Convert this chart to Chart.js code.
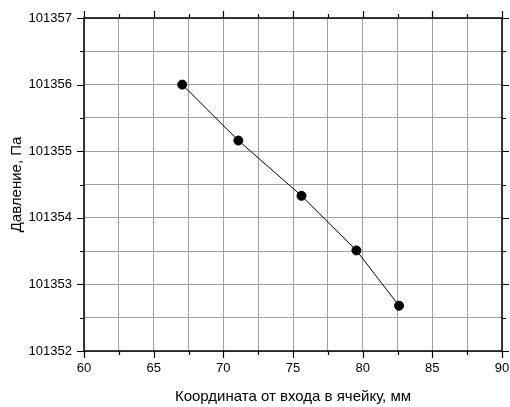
<!DOCTYPE html>
<html>
<head>
<meta charset="utf-8">
<script src="https://cdn.jsdelivr.net/npm/chart.js@4/dist/chart.umd.min.js"></script>
<style>
html,body{margin:0;padding:0;background:#fff;}
#wrap{width:510px;height:407px;}
</style>
</head>
<body>
<div id="wrap"><canvas id="c" width="510" height="407"></canvas></div>
<script>
const xValues = [67.05, 71.08, 75.61, 79.55, 82.61];
const yValues = [101356.0, 101355.16, 101354.33, 101353.51, 101352.68];
const xTitle = 'Координата от входа в ячейку, мм';
const yTitle = 'Давление, Па';

const FONT = "'Liberation Sans', Arial, sans-serif";

const framePlugin = {
  id: 'frame',
  afterDatasetsDraw(chart) {
    const ctx = chart.ctx;
    const a = chart.chartArea;
    const xs = chart.scales.x, ys = chart.scales.y;
    ctx.save();
    ctx.strokeStyle = '#000';
    ctx.lineWidth = 1.5;
    ctx.strokeRect(a.left, a.top, a.right - a.left, a.bottom - a.top);
    ctx.lineWidth = 1.2;
    ctx.beginPath();
    xs.ticks.forEach(t => {
      const p = Math.round(xs.getPixelForValue(t.value)) + 0.5;
      const major = Math.abs(t.value % 5) < 1e-6;
      const L = major ? 7 : 4;
      ctx.moveTo(p, a.bottom); ctx.lineTo(p, a.bottom + L);
      ctx.moveTo(p, a.top); ctx.lineTo(p, a.top - L);
    });
    ys.ticks.forEach(t => {
      const p = Math.round(ys.getPixelForValue(t.value)) + 0.5;
      const major = Math.abs(t.value - Math.round(t.value)) < 1e-6;
      const L = major ? 7 : 4;
      ctx.moveTo(a.left, p); ctx.lineTo(a.left - L, p);
      ctx.moveTo(a.right, p); ctx.lineTo(a.right + L, p);
    });
    ctx.stroke();
    ctx.restore();
  }
};

new Chart(document.getElementById('c'), {
  type: 'scatter',
  data: {
    datasets: [{
      data: xValues.map((x, i) => ({x: x, y: yValues[i]})),
      showLine: true,
      borderColor: '#000',
      borderWidth: 1,
      backgroundColor: '#000',
      pointRadius: 4.5,
      pointBackgroundColor: '#000',
      pointBorderColor: '#000'
    }]
  },
  options: {
    responsive: false,
    animation: false,
    devicePixelRatio: 1,
    layout: {padding: {top: 18, right: 8, left: 0, bottom: 0}},
    plugins: {legend: {display: false}, tooltip: {enabled: false}},
    scales: {
      x: {
        type: 'linear', min: 60, max: 90,
        afterFit(s) { s.height = 56; s.paddingRight = 0; s.paddingLeft = 0; },
        border: {display: false},
        grid: {color: '#a0a0a0', lineWidth: 1, drawTicks: false},
        ticks: {
          stepSize: 2.5, padding: 10, color: '#000', maxRotation: 0, autoSkip: false,
          font: {family: FONT, size: 13},
          callback: v => (Math.abs(v % 5) < 1e-6 ? String(v) : '')
        },
        title: {display: true, text: xTitle, color: '#000', font: {family: FONT, size: 15}, padding: {top: 0, bottom: 1}}
      },
      y: {
        type: 'linear', min: 101352, max: 101357,
        afterFit(s) { s.width = 84; s.paddingTop = 0; s.paddingBottom = 0; },
        border: {display: false},
        grid: {color: '#a0a0a0', lineWidth: 1, drawTicks: false},
        ticks: {
          stepSize: 0.5, padding: 12, color: '#000', autoSkip: false,
          font: {family: FONT, size: 13},
          callback: v => (Math.abs(v - Math.round(v)) < 1e-6 ? String(Math.round(v)) : '')
        },
        title: {display: true, text: yTitle, color: '#000', font: {family: FONT, size: 15}, padding: {top: 8, bottom: 0}}
      }
    }
  },
  plugins: [framePlugin]
});
</script>
</body>
</html>
